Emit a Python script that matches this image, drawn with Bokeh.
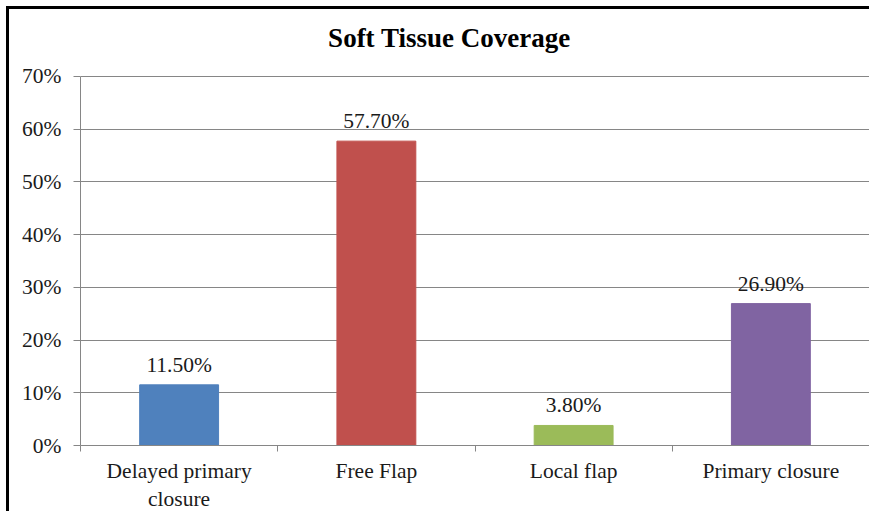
from bokeh.plotting import figure
from bokeh.models import ColumnDataSource, FixedTicker, LabelSet, Label, Range1d
from bokeh.embed import file_html
from bokeh.resources import INLINE

title = "Soft Tissue Coverage"
categories = ["Delayed primary\nclosure", "Free Flap", "Local flap", "Primary closure"]
values = [11.5, 57.7, 3.8, 26.9]
labels = ["11.50%", "57.70%", "3.80%", "26.90%"]
colors = ["#4F81BD", "#C0504D", "#9BBB59", "#8064A2"]
y_ticks = [0, 10, 20, 30, 40, 50, 60, 70]

xs = [i + 0.5 for i in range(len(categories))]
src = ColumnDataSource(dict(x=xs, top=values, label=labels, color=colors))

p = figure(width=863, height=505, output_backend="svg", toolbar_location=None,
           x_range=Range1d(0, len(categories)), y_range=Range1d(0, 80),
           min_border_left=71, min_border_right=3, min_border_top=14, min_border_bottom=61)
p.styles = {"border-top": "3px solid black", "border-left": "3px solid black",
            "margin-left": "6px", "margin-top": "6px", "box-sizing": "border-box"}

p.vbar(x="x", top="top", width=0.4, bottom=0, color="color", source=src)
p.add_layout(LabelSet(x="x", y="top", text="label", source=src, text_align="center",
                      text_baseline="alphabetic", y_offset=13, text_font="Liberation Serif",
                      text_font_size="21.5px", text_color="#1a1a1a"))
p.add_layout(Label(x=1.87, y=77.2, text=title, text_align="center", text_baseline="alphabetic",
                   text_font="Liberation Serif", text_font_size="27px", text_font_style="bold",
                   text_color="#000000"))

p.xaxis.ticker = FixedTicker(ticks=xs, minor_ticks=list(range(len(categories) + 1)))
p.xaxis.major_label_overrides = {x: c for x, c in zip(xs, categories)}
p.xaxis.major_tick_out = 0
p.xaxis.major_tick_in = 0
p.xaxis.minor_tick_out = 6
p.xaxis.minor_tick_in = 0
p.xaxis.minor_tick_line_color = "#868686"
p.xaxis.axis_line_color = "#868686"
p.xaxis.major_label_text_font = "Liberation Serif"
p.xaxis.major_label_text_font_size = "21.5px"
p.xaxis.major_label_text_color = "#1a1a1a"
p.xaxis.major_label_standoff = 7

p.yaxis.ticker = FixedTicker(ticks=y_ticks)
p.yaxis.bounds = (0, 70)
p.yaxis.major_label_overrides = {t: f"{t}%" for t in y_ticks}
p.yaxis.major_tick_out = 7
p.yaxis.major_tick_in = 0
p.yaxis.minor_tick_out = 0
p.yaxis.minor_tick_in = 0
p.yaxis.major_tick_line_color = "#868686"
p.yaxis.axis_line_color = "#868686"
p.yaxis.major_label_text_font = "Liberation Serif"
p.yaxis.major_label_text_font_size = "21.5px"
p.yaxis.major_label_text_color = "#1a1a1a"
p.yaxis.major_label_standoff = 12

p.xgrid.grid_line_color = None
p.ygrid.ticker = FixedTicker(ticks=y_ticks)
p.ygrid.grid_line_color = "#868686"
p.ygrid.grid_line_width = 1
p.outline_line_color = None

open("out.html", "w").write(file_html(p, INLINE))
